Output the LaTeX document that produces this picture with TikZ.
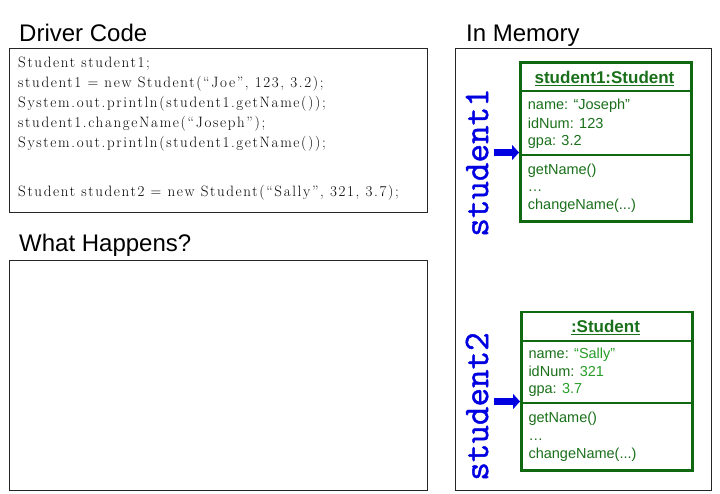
\documentclass[tikz,border=0pt]{standalone}
\usepackage{fontspec}
\newfontfamily\arialf{Liberation Sans}
\newfontfamily\codef{Latin Modern Roman}[LetterSpace=11]
\newfontfamily\varf{Latin Modern Mono}[FakeBold=1.2]
\usetikzlibrary{arrows.meta}
\definecolor{umlgreen}{RGB}{16,104,16}
\definecolor{umltext}{RGB}{26,112,26}
\definecolor{umlval}{RGB}{40,158,40}
\definecolor{refblue}{RGB}{0,0,225}
\begin{document}
\begin{tikzpicture}[x=1pt,y=-1pt,
  frame/.style={draw=black!85, line width=1pt, anchor=north west, inner sep=0pt},
  heading/.style={font=\arialf\fontsize{24}{27}\selectfont, anchor=base west, inner sep=0pt},
  codeline/.style={font=\codef\fontsize{15}{17}\selectfont, anchor=base west, inner sep=0pt},
  compart/.style={draw=umlgreen, line width=2pt, anchor=north west, minimum width=171pt, inner sep=0pt},
  umlouter/.style={draw=umlgreen, line width=2.8pt, anchor=north west, minimum width=171pt, inner sep=0pt},
  umlhead/.style={font=\arialf\bfseries\fontsize{17}{20}\selectfont, text=umltext, anchor=base, inner sep=0pt},
  umlrow/.style={font=\arialf\fontsize{14.5}{17}\selectfont, text=umltext, anchor=base west, inner sep=0pt},
  varlabel/.style={font=\varf\fontsize{36}{38}\selectfont, text=refblue, rotate=90, inner sep=0pt},
  ptr/.style={draw=refblue, line width=7pt, -{Triangle[length=7pt,width=15pt]}}
]
\useasboundingbox[fill=white] (0,0) rectangle (720,494);

% headings
\node[heading] (hdriver) at (19,42) {Driver Code};
\node[heading] (hwhat) at (19,252) {What Happens?};
\node[heading] (hmem) at (466,42) {In Memory};

% frames
\node[frame, minimum width=418pt, minimum height=164pt] (codebox) at (9,48) {};
\node[frame, minimum width=418pt, minimum height=230pt] (whatbox) at (9,260) {};
\node[frame, minimum width=256pt, minimum height=442pt] (membox) at (455,48) {};

% code
\node[codeline] (c1) at (18,67.5) {Student student1;};
\node[codeline] (c2) at (18,87.5) {student1 = new Student(“Joe”, 123, 3.2);};
\node[codeline] (c3) at (18,107.5) {System.out.println(student1.getName());};
\node[codeline] (c4) at (18,127.5) {student1.changeName(“Joseph”);};
\node[codeline] (c5) at (18,147.5) {System.out.println(student1.getName());};
\node[codeline] (c7) at (18,197) {Student student2 = new Student(“Sally”, 321, 3.7);};

% object 1
\node[compart, minimum height=29pt] (hd1) at (519,61) {};
\node[compart, minimum height=64pt] (at1) at (519,90) {};
\node[compart, minimum height=66.5pt] (me1) at (519,154) {};
\node[umlouter, minimum height=159.5pt] (ob1) at (519,61) {};
\node[umlhead] (n1) at (604.5,83.3) {\underline{student1:Student}};
\node[umlrow] (r11) at (527.7,109.3) {name: “Joseph”};
\node[umlrow] (r12) at (527.7,128.3) {idNum: 123};
\node[umlrow] (r13) at (527.7,146) {gpa: 3.2};
\node[umlrow] (r14) at (527.7,175) {getName()};
\node[umlrow] (r15) at (527.7,191.7) {…};
\node[umlrow] (r16) at (527.7,209.3) {changeName(...)};

% object 2
\node[compart, minimum height=29.5pt] (hd2) at (520,310.5) {};
\node[compart, minimum height=61.5pt] (at2) at (520,340) {};
\node[compart, minimum height=67.5pt] (me2) at (520,401.5) {};
\node[umlouter, minimum height=158.5pt] (ob2) at (520,310.5) {};
\node[umlhead] (n2) at (605.5,332.7) {\underline{:Student}};
\node[umlrow] (r21) at (528.3,358.3) {name: {\color{umlval}“Sally”}};
\node[umlrow] (r22) at (528.3,376) {idNum: {\color{umlval}321}};
\node[umlrow] (r23) at (528.3,393.3) {gpa: {\color{umlval}3.7}};
\node[umlrow] (r24) at (528.3,422.7) {getName()};
\node[umlrow] (r25) at (528.3,440) {…};
\node[umlrow] (r26) at (528.3,458.3) {changeName(...)};

% variable labels
\node[varlabel] (v1) at (477,162.5) {student1};
\node[varlabel] (v2) at (477,406.5) {student2};

% pointers
\coordinate (s1) at (494,152.5);
\coordinate (s2) at (494,401.5);
\draw[ptr] (s1) -- (s1 -| at1.west);
\draw[ptr] (s2) -- (s2 -| at2.west);
\end{tikzpicture}
\end{document}
